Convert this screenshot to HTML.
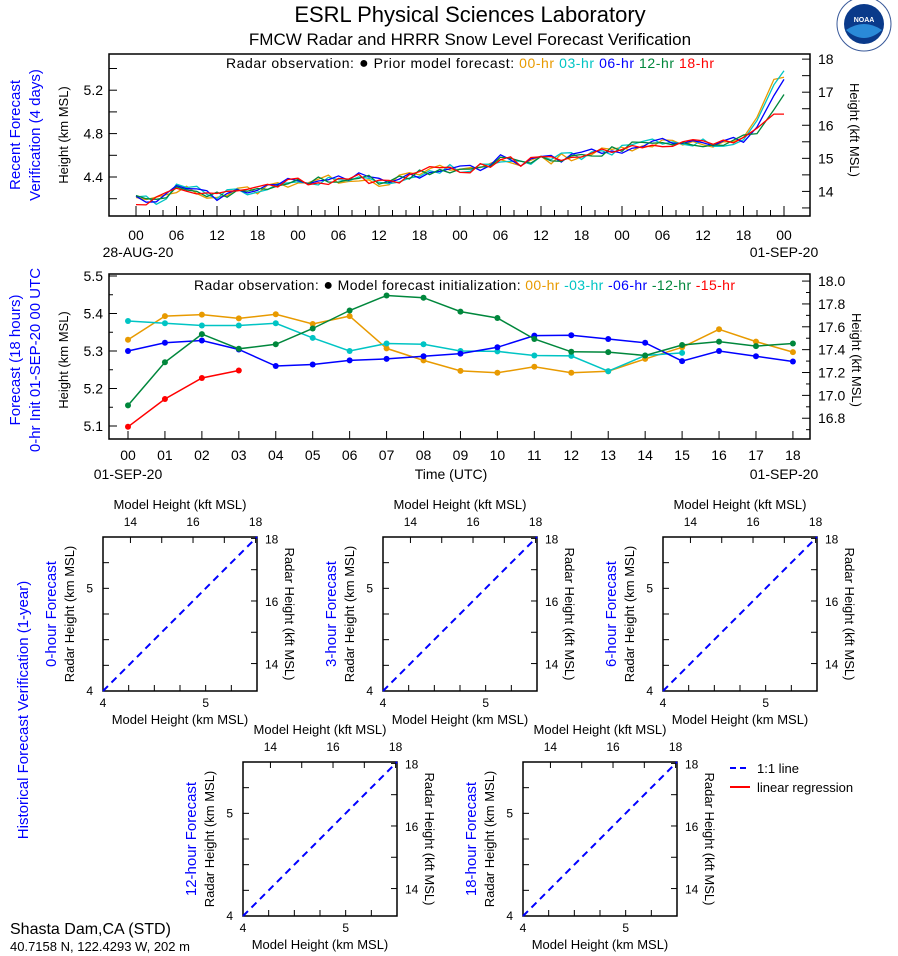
<!DOCTYPE html>
<html><head><meta charset="utf-8"><style>
body{margin:0;background:#fff;}
svg{display:block;font-family:"Liberation Sans",sans-serif;}
</style></head><body>
<svg id="s" width="898" height="956" xmlns="http://www.w3.org/2000/svg"></svg>
<script>
const S=document.getElementById('s');let h='';
function T(x,y,t,o){o=o||{};h+=`<text x="${x}" y="${y}" font-size="${o.s||14}" fill="${o.c||'#000'}" text-anchor="${o.a||'middle'}"${o.r?` transform="rotate(${o.r} ${x} ${y})"`:''}>${t}</text>`;}
function L(x1,y1,x2,y2,c,w,d){h+=`<line x1="${x1}" y1="${y1}" x2="${x2}" y2="${y2}" stroke="${c||'#000'}" stroke-width="${w||1}"${d?` stroke-dasharray="${d}"`:''}/>`;}
function P(pts,c,w){h+=`<polyline points="${pts.map(p=>p[0].toFixed(1)+','+p[1].toFixed(1)).join(' ')}" fill="none" stroke="${c}" stroke-width="${w||1.5}"/>`;}
const OR='#e89a00',CY='#00c4c4',BL='#0000ff',GR='#00873c',RD='#ff0000';
T(470,22,'ESRL Physical Sciences Laboratory',{s:22});
T(470,45,'FMCW Radar and HRRR Snow Level Forecast Verification',{s:17});
h+=`<circle cx="864" cy="24" r="27" fill="#fff" stroke="#3a5a9a" stroke-width="1"/><circle cx="864" cy="24" r="20" fill="#0a3a8a"/><path d="M846,30 Q864,18 882,30 Q864,46 846,30Z" fill="#2a8ad8"/><text x="864" y="22" font-size="7" fill="#fff" text-anchor="middle" font-weight="bold">NOAA</text>`;
const tx=hh=>136+hh*6.75, ty=v=>177-(v-4.4)*108.5;
h+=`<rect x="109" y="54" width="701" height="162" fill="none" stroke="#000" stroke-width="1.5"/>`;
[4.4,4.8,5.2].forEach(v=>T(103,ty(v)+5,v.toFixed(1),{a:'end'}));
for(let v=4.2;v<=5.41;v+=0.2)L(109,ty(v),117,ty(v));
for(let k=13.5;k<=18.01;k+=0.5){const y=ty(k/3.2808);L(802,y,810,y);if(k%1==0)T(818,y+5,k,{a:'start'});}
for(let hr=0;hr<=96;hr+=2){const x=tx(hr);L(x,216,x,hr%6==0?206:210);if(hr%6==0)T(x,240,String(hr%24).padStart(2,'0'));}
T(138,257,'28-AUG-20');T(784,257,'01-SEP-20');
T(20,135,'Recent Forecast',{s:15,c:BL,r:-90});T(40,135,'Verification (4 days)',{s:15,c:BL,r:-90});
T(68,135,'Height (km MSL)',{s:13,r:-90});T(850,130,'Height (kft MSL)',{s:13,r:90});
h+=`<text x="226" y="68" font-size="14" textLength="488" lengthAdjust="spacing">Radar observation: <tspan font-size="16">●</tspan>   Prior model forecast:   <tspan fill="${OR}">00-hr</tspan>   <tspan fill="${CY}">03-hr</tspan>   <tspan fill="${BL}">06-hr</tspan>   <tspan fill="${GR}">12-hr</tspan>   <tspan fill="${RD}">18-hr</tspan></text>`;
const base=[4.19,4.18,4.29,4.27,4.22,4.27,4.28,4.33,4.36,4.37,4.38,4.40,4.35,4.38,4.43,4.47,4.47,4.48,4.57,4.53,4.55,4.58,4.60,4.63,4.66,4.71,4.72,4.73,4.72,4.70,4.76];
const ends={[OR]:[4.95,5.3,5.32],[CY]:[4.92,5.25,5.38],[BL]:[4.86,5.15,5.3],[GR]:[4.8,5.02,5.16],[RD]:[4.85,4.98,4.98]};
let seed=1;function rnd(){seed=(seed*9301+49297)%233280;return seed/233280;}
[OR,CY,BL,GR,RD].forEach((c,i)=>{seed=i*77+13;const pts=[];
 for(let hr=0;hr<=90;hr+=1.5){const k=hr/3,a=Math.floor(k),f=k-a;let v=a>=30?base[30]:base[a]*(1-f)+base[a+1]*f;v+=(rnd()-0.5)*0.09;pts.push([tx(hr),ty(v)]);}
 const e=ends[c];pts.push([tx(92),ty(e[0])]);pts.push([tx(94.5),ty(e[1])]);pts.push([tx(96),ty(e[2])]);P(pts,c,1.3);});
const mx=hr=>128+hr*36.94, my=v=>276+(5.5-v)*375;
h+=`<rect x="109" y="274" width="701" height="165" fill="none" stroke="#000" stroke-width="1.5"/>`;
[5.1,5.2,5.3,5.4,5.5].forEach(v=>{T(103,my(v)+5,v.toFixed(1),{a:'end'});L(109,my(v),117,my(v));});
for(let v=5.15;v<5.5;v+=0.1)L(109,my(v),113,my(v));
for(let k=16.7;k<=18.01;k+=0.1){const y=my(k/3.2808);const mj=Math.round(k*10)%2==0;L(810,y,mj?802:806,y);if(mj)T(818,y+5,k.toFixed(1),{a:'start'});}
for(let hr=0;hr<=18;hr++){const x=mx(hr);L(x,439,x,431);T(x,460,String(hr).padStart(2,'0'));}
T(128,479,'01-SEP-20');T(784,479,'01-SEP-20');T(451,479,'Time (UTC)');
T(20,360,'Forecast (18 hours)',{s:15,c:BL,r:-90});T(40,360,'0-hr Init 01-SEP-20 00 UTC',{s:15,c:BL,r:-90});
T(68,360,'Height (km MSL)',{s:13,r:-90});T(852,360,'Height (kft MSL)',{s:13,r:90});
h+=`<text x="194" y="290" font-size="14" textLength="541" lengthAdjust="spacing">Radar observation: <tspan font-size="16">●</tspan>   Model forecast initialization:   <tspan fill="${OR}">00-hr</tspan>   <tspan fill="${CY}">-03-hr</tspan>   <tspan fill="${BL}">-06-hr</tspan>   <tspan fill="${GR}">-12-hr</tspan>   <tspan fill="${RD}">-15-hr</tspan></text>`;
const md=[[OR,[5.33,5.393,5.397,5.387,5.398,5.372,5.393,5.307,5.275,5.247,5.242,5.258,5.242,5.246,5.279,5.31,5.358,5.325,5.297]],
[CY,[5.38,5.374,5.368,5.368,5.374,5.335,5.30,5.32,5.318,5.30,5.299,5.288,5.287,5.246,5.288,5.295]],
[BL,[5.30,5.322,5.328,5.304,5.26,5.264,5.275,5.279,5.286,5.293,5.31,5.341,5.342,5.332,5.322,5.273,5.30,5.286,5.272]],
[GR,[5.155,5.27,5.345,5.306,5.318,5.36,5.408,5.448,5.442,5.405,5.388,5.332,5.298,5.297,5.288,5.316,5.325,5.313,5.32]],
[RD,[5.098,5.172,5.228,5.248]]];
md.forEach(([c,a])=>{const pts=a.map((v,i)=>[mx(i),my(v)]);P(pts,c,1.5);pts.forEach(p=>h+=`<circle cx="${p[0]}" cy="${p[1]}" r="3" fill="${c}"/>`);});
function sc(bx,by,title){const w=154,hh=154,k=w/1.5;
 h+=`<rect x="${bx}" y="${by}" width="${w}" height="${hh}" fill="none" stroke="#000" stroke-width="1.5"/>`;
 for(let i=0;i<=6;i++){const x=bx+i*k*0.25,y=by+hh-i*k*0.25;L(x,by+hh,x,by+hh-6);L(bx,y,bx+6,y);}
 for(let f=14;f<=18;f++){const km=f/3.2808,x=bx+(km-4)*k,y=by+hh-(km-4)*k;L(x,by,x,by+6);L(bx+w,y,bx+w-6,y);if(f%2==0){T(x,by-11,f,{s:12});T(bx+w+8,y+5,f,{s:12,a:'start'});}}
 T(bx,by+hh+16,'4',{s:12});T(bx+k,by+hh+16,'5',{s:12});T(bx-10,by+hh+4,'4',{s:12,a:'end'});T(bx-10,by+hh-k+4,'5',{s:12,a:'end'});
 T(bx+w/2,by+hh+33,'Model Height (km MSL)',{s:13});T(bx+w/2,by-28,'Model Height (kft MSL)',{s:13});
 T(bx-29,by+hh/2,'Radar Height (km MSL)',{s:13,r:-90});T(bx+w+28,by+hh/2,'Radar Height (kft MSL)',{s:13,r:90});
 T(bx-47,by+hh/2,title,{s:15,c:BL,r:-90});
 L(bx,by+hh,bx+w,by,BL,2,'7,5');}
sc(103,537,'0-hour Forecast');sc(383,537,'3-hour Forecast');sc(663,537,'6-hour Forecast');
sc(243,762,'12-hour Forecast');sc(523,762,'18-hour Forecast');
T(28,710,'Historical Forecast Verification (1-year)',{s:15,c:BL,r:-90});
L(730,768,750,768,BL,2,'6,4');T(757,773,'1:1 line',{s:13,a:'start'});
L(730,787,750,787,RD,2);T(757,792,'linear regression',{s:13,a:'start'});
T(10,934,'Shasta Dam,CA (STD)',{s:16,a:'start'});T(10,951,'40.7158 N, 122.4293 W, 202 m',{s:13,a:'start'});
S.innerHTML=h;
</script>
</body></html>
